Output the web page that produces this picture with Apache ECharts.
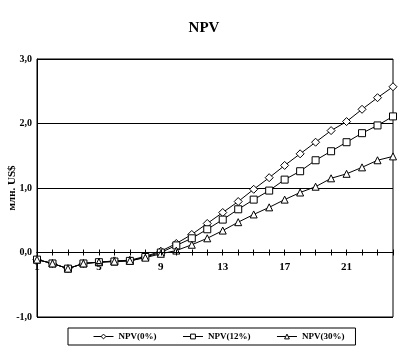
<!DOCTYPE html>
<html>
<head>
<meta charset="utf-8">
<script src="https://cdn.jsdelivr.net/npm/echarts@6/dist/echarts.min.js"></script>
<style>
  html, body { margin: 0; padding: 0; background: #fff; }
  #chart { width: 408px; height: 353px; }
</style>
</head>
<body>
<div id="chart"></div>
<script>
// periods 1..24
const periods = ['1','2','3','4','5','6','7','8','9','10','11','12','13','14','15','16','17','18','19','20','21','22','23','24']

// NPV, млн. US$
const npv0 = [-0.11, -0.17, -0.25, -0.17, -0.15, -0.13, -0.12, -0.06, 0.02, 0.14, 0.28, 0.45, 0.62, 0.79, 0.98, 1.16, 1.35, 1.53, 1.71, 1.89, 2.03, 2.22, 2.40, 2.57]
const npv12 = [-0.11, -0.17, -0.25, -0.17, -0.15, -0.14, -0.13, -0.07, 0.0, 0.11, 0.22, 0.36, 0.51, 0.67, 0.82, 0.96, 1.13, 1.26, 1.43, 1.57, 1.71, 1.85, 1.97, 2.11]
const npv30 = [-0.11, -0.17, -0.25, -0.17, -0.15, -0.14, -0.13, -0.08, -0.02, 0.03, 0.12, 0.22, 0.34, 0.47, 0.59, 0.70, 0.82, 0.93, 1.02, 1.15, 1.22, 1.32, 1.43, 1.49]

const seriesNames = ['NPV(0%)', 'NPV(12%)', 'NPV(30%)']
const symbols = ['diamond', 'rect', 'triangle']

const yMin = -1
const yMax = 3

const font = 'Liberation Serif'

const chart = echarts.init(document.getElementById('chart'))

function makeSeries(name, data, symbol) {
  return {
    name: name,
    type: 'line',
    data: data,
    symbol: symbol,
    symbolSize: symbol === 'diamond' ? 8 : 7,
    showAllSymbol: true,
    animation: false,
    lineStyle: { color: '#000', width: 1 },
    itemStyle: { color: '#fff', borderColor: '#000', borderWidth: 1 }
  }
}

// category axis drawn twice: outer ticks + inner ticks = crossing ticks
function makeXAxis(inside, showLabel) {
  return {
    type: 'category',
    data: periods,
    boundaryGap: false,
    position: 'bottom',
    zlevel: 1,
    axisLine: { onZero: false, lineStyle: { color: '#000', width: 1 } },
    axisTick: { show: true, interval: 0, inside: inside, length: 3, lineStyle: { color: '#000' } },
    axisLabel: {
      show: showLabel,
      interval: 3,
      margin: 9,
      hideOverlap: false,
      showMinLabel: true,
      fontFamily: font,
      fontWeight: 'bold',
      fontSize: 11,
      color: '#000'
    },
    splitLine: { show: false }
  }
}

const option = {
  backgroundColor: '#fff',
  title: {
    text: 'NPV',
    left: 'center',
    top: 16,
    textStyle: { fontFamily: font, fontWeight: 'bold', fontSize: 15, color: '#000' }
  },
  legend: {
    data: seriesNames,
    left: 68,
    top: 328,
    itemWidth: 20,
    itemHeight: 6,
    itemGap: 26,
    padding: [4, 11, 4, 25],
    borderColor: '#000',
    borderWidth: 1,
    lineStyle: { width: 1 },
    itemStyle: { borderWidth: 1 },
    textStyle: { fontFamily: font, fontWeight: 'bold', fontSize: 9, color: '#000', width: 48 }
  },
  grid: {
    left: 37,
    right: 15,
    top: 59,
    bottom: 36,
    show: true,
    borderColor: '#000',
    borderWidth: 1,
    containLabel: false,
    outerBoundsMode: 'none'
  },
  xAxis: [makeXAxis(false, true), makeXAxis(true, false)],
  yAxis: {
    type: 'value',
    min: yMin,
    max: yMax,
    interval: 1,
    name: 'млн. US$',
    nameLocation: 'middle',
    nameGap: 19,
    nameMoveOverlap: false,
    nameTextStyle: { fontFamily: font, fontWeight: 'bold', fontSize: 11, color: '#000' },
    axisLine: { show: true, lineStyle: { color: '#000', width: 1 } },
    axisTick: { show: false },
    axisLabel: {
      margin: 5,
      fontFamily: font,
      fontWeight: 'bold',
      fontSize: 10,
      color: '#000',
      formatter: v => v.toFixed(1).replace('.', ',')
    },
    splitLine: { show: true, lineStyle: { color: '#000', width: 1 } }
  },
  series: [
    makeSeries(seriesNames[0], npv0, symbols[0]),
    makeSeries(seriesNames[1], npv12, symbols[1]),
    makeSeries(seriesNames[2], npv30, symbols[2])
  ]
}

chart.setOption(option)

// move the category axis up to the zero line
const zeroY = chart.convertToPixel({ yAxisIndex: 0 }, 0)
const bottomY = chart.convertToPixel({ yAxisIndex: 0 }, yMin)
const shift = zeroY - bottomY
chart.setOption({ xAxis: [{ offset: shift }, { offset: shift }] })
</script>
</body>
</html>
